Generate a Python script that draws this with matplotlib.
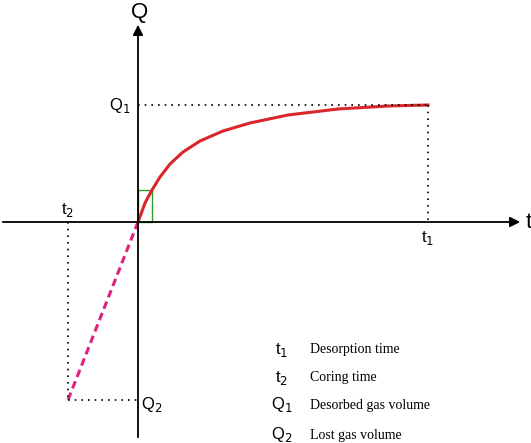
import matplotlib.pyplot as plt
import numpy as np

plt.rcParams['font.family'] = ['Liberation Sans', 'DejaVu Sans']

# values (origin at axes crossing, units ~ pixels)
curve_t = [0, 3, 7, 14, 22, 32, 45, 62, 85, 112, 150, 200, 250, 290]
curve_q = [0, 8, 19, 32, 45, 58, 70, 81, 91, 99, 107, 113, 116, 117]
t1, q1 = 290, 117
t2, q2 = -70, -178
legend_sym = ["t$_1$", "t$_2$", "Q$_1$", "Q$_2$"]
legend_txt = ["Desorption time", "Coring time", "Desorbed gas volume", "Lost gas volume"]

fig = plt.figure(figsize=(5.31, 4.43), dpi=100)
ax = fig.add_axes([0, 0, 1, 1])
ax.set_xlim(-138, 531 - 138)
ax.set_ylim(-(443 - 222), 222)
ax.axis('off')

# axes with arrows
ax.annotate("", xy=(385, 0), xytext=(-138, 0),
            arrowprops=dict(arrowstyle="-|>", color="black", lw=1.3, mutation_scale=15))
ax.annotate("", xy=(0, 200), xytext=(0, -218),
            arrowprops=dict(arrowstyle="-|>", color="black", lw=1.3, mutation_scale=15))
ax.text(2, 210, "Q", fontsize=16, ha='center', va='center')
ax.text(388, 0, "t", fontsize=16, ha='left', va='center')

# desorption curve
ax.plot(curve_t, curve_q, color="#d9262b", lw=2.2)
# lost gas line
ax.plot([0, t2], [0, q2], color="#e0217f", lw=2.2, ls=(0, (2.5, 1.5)))

# small green box
ax.add_patch(plt.Rectangle((0, 0), 14, 32, fill=False, edgecolor="#2ca02c", lw=1))

# dotted guides
dot = dict(color="black", lw=1.2, ls=(0, (1, 3)))
ax.plot([0, t1], [q1, q1], **dot)
ax.plot([t1, t1], [q1, 0], **dot)
ax.plot([t2, t2], [0, q2], **dot)
ax.plot([t2, 0], [q2, q2], **dot)

ax.text(-18, q1, "Q$_1$", fontsize=12, ha='center', va='center')
ax.text(t1, -16, "t$_1$", fontsize=12, ha='center', va='center')
ax.text(t2, 12, "t$_2$", fontsize=12, ha='center', va='center')
ax.text(14, q2 - 5, "Q$_2$", fontsize=12, ha='center', va='center')

ys = [-128, -156, -183, -213]
for s, t, y in zip(legend_sym, legend_txt, ys):
    ax.text(144, y, s, fontsize=12, ha='center', va='center')
    ax.text(172, y, t, fontsize=10, family=['Liberation Serif', 'DejaVu Serif'], ha='left', va='center')

fig.savefig("out.png", dpi=100)
